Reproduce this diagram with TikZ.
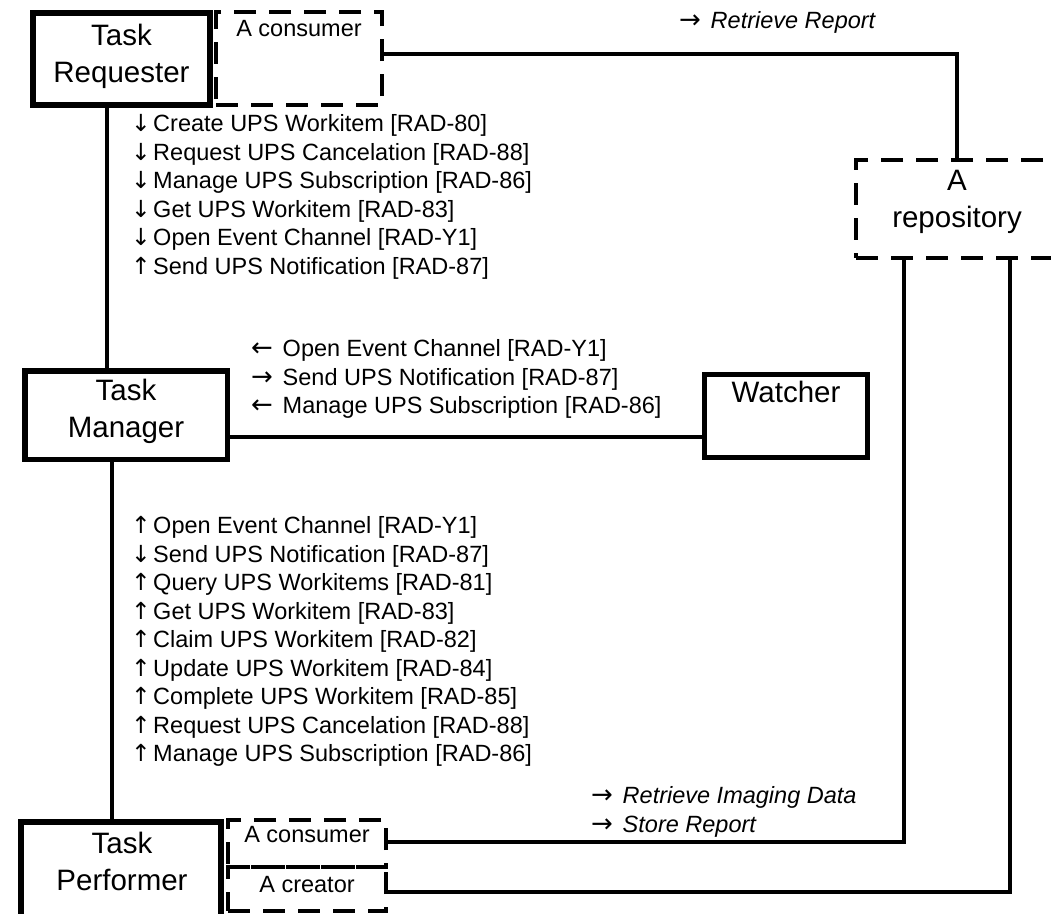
\documentclass[tikz,border=0pt]{standalone}
\usepackage{fontspec}
\setmainfont{Liberation Sans}
\newfontfamily\arrowfont{DejaVu Sans}
\usetikzlibrary{calc}

% direction arrows placed in front of the transaction names
\newcommand\arrV[1]{\makebox[11.5pt][c]{\arrowfont #1}}
\newcommand\arrH[1]{\makebox[25pt][l]{\arrowfont\fontsize{26}{26}\selectfont #1}}
\newcommand\arrD{\arrV{↓}}
\newcommand\arrU{\arrV{↑}}
\newcommand\arrL{\arrH{←}}
\newcommand\arrR{\arrH{→}}

\begin{document}
\begin{tikzpicture}[x=1pt,y=-1pt,
  solidbox/.style={draw, line width=5.5pt, inner sep=0pt},
  dashbox/.style={draw, line width=4.5pt, dash pattern=on 22pt off 13pt, inner sep=0pt},
  wire/.style={line width=3.5pt},
  bigtext/.style={font=\fontsize{29.5}{37}\selectfont, align=center, inner sep=0pt},
  smalltext/.style={font=\fontsize{23.5}{28.5}\selectfont, align=left, inner sep=0pt},
]
\useasboundingbox (0,0) rectangle (1051,913);
\fill[white] (0,0) rectangle (1051,913);
\clip (0,0) rectangle (1051,913);

% actor boxes
\node[solidbox, minimum width=177pt, minimum height=92pt]   (tr) at (121.5,59) {};
\node[solidbox, minimum width=202.5pt, minimum height=88.5pt] (tm) at (126,415) {};
\node[solidbox, line width=4.5pt, minimum width=163pt, minimum height=83pt] (w) at (786,416) {};
\node[solidbox, minimum width=200pt, minimum height=113pt]  (tp) at (121,878.5) {};

% grouped (dashed) actors
\node[dashbox, minimum width=166pt, minimum height=93pt] (c1) at (299,58.5) {};
\node[dashbox, minimum width=202pt, minimum height=98pt] (rep) at (957,209) {};
\node[dashbox, minimum width=158pt, minimum height=47pt] (c2) at (307,843.5) {};
\node[dashbox, minimum width=158pt, minimum height=44pt] (cr) at (307,889) {};

% box labels
\node[bigtext, anchor=north] (trt) at (121.5,19.1) {\strut Task\\\strut Requester};
\node[bigtext, anchor=north] (tmt) at (126,374.6) {\strut Task\\\strut Manager};
\node[bigtext, anchor=base]  (wt)  at (786,402) {Watcher};
\node[bigtext, anchor=north] (tpt) at (122,827.1) {\strut Task\\\strut Performer};
\node[bigtext, anchor=north] (rept) at (957,164.1) {\strut A\\\strut repository};
\node[smalltext, anchor=base] (c1t) at (299,36.5) {A consumer};
\node[smalltext, anchor=base] (c2t) at (307,842) {A consumer};
\node[smalltext, anchor=base] (crt) at (307,892.3) {A creator};

% connectors
\coordinate (rs1) at ($(rep.south west)!0.243!(rep.south east)$);
\coordinate (rs2) at ($(rep.south west)!0.757!(rep.south east)$);
\draw[wire] ([yshift=4.5pt]c1.east) -| (rep.north);
\draw[wire] ([yshift=1.5pt]c2.east) -| (rs1);
\draw[wire] ([yshift=-3pt]cr.east) -| (rs2);
\draw[wire] ([xshift=-14.5pt]tr.south) -- ([xshift=-14.5pt]tr.south |- tm.north);
\draw[wire] ([xshift=-14pt]tm.south) -- ([xshift=-14pt]tm.south |- tp.north);
\draw[wire] ([yshift=-22pt]tm.east) -- ([yshift=-22pt]tm.east -| w.west);

% transaction lists
\node[smalltext, anchor=north west] (l1) at (135,111.75) {%
\strut\arrD{} Create UPS Workitem [RAD-80]\\
\strut\arrD{} Request UPS Cancelation [RAD-88]\\
\strut\arrD{} Manage UPS Subscription [RAD-86]\\
\strut\arrD{} Get UPS Workitem [RAD-83]\\
\strut\arrD{} Open Event Channel [RAD-Y1]\\
\strut\arrU{} Send UPS Notification [RAD-87]};

\node[smalltext, anchor=north west] (l2) at (251,336.75) {%
\strut\arrL{} Open Event Channel [RAD-Y1]\\
\strut\arrR{} Send UPS Notification [RAD-87]\\
\strut\arrL{} Manage UPS Subscription [RAD-86]};

\node[smalltext, anchor=north west] (l3) at (135,513.35) {%
\strut\arrU{} Open Event Channel [RAD-Y1]\\
\strut\arrD{} Send UPS Notification [RAD-87]\\
\strut\arrU{} Query UPS Workitems [RAD-81]\\
\strut\arrU{} Get UPS Workitem [RAD-83]\\
\strut\arrU{} Claim UPS Workitem [RAD-82]\\
\strut\arrU{} Update UPS Workitem [RAD-84]\\
\strut\arrU{} Complete UPS Workitem [RAD-85]\\
\strut\arrU{} Request UPS Cancelation [RAD-88]\\
\strut\arrU{} Manage UPS Subscription [RAD-86]};

\node[smalltext, anchor=base west] (rr) at (679,28.3) {\arrR{} \textit{Retrieve Report}};
\node[smalltext, anchor=north west] (ri) at (591,783.35) {%
\strut\arrR{} \textit{Retrieve Imaging Data}\\
\strut\arrR{} \textit{Store Report}};
\end{tikzpicture}
\end{document}
